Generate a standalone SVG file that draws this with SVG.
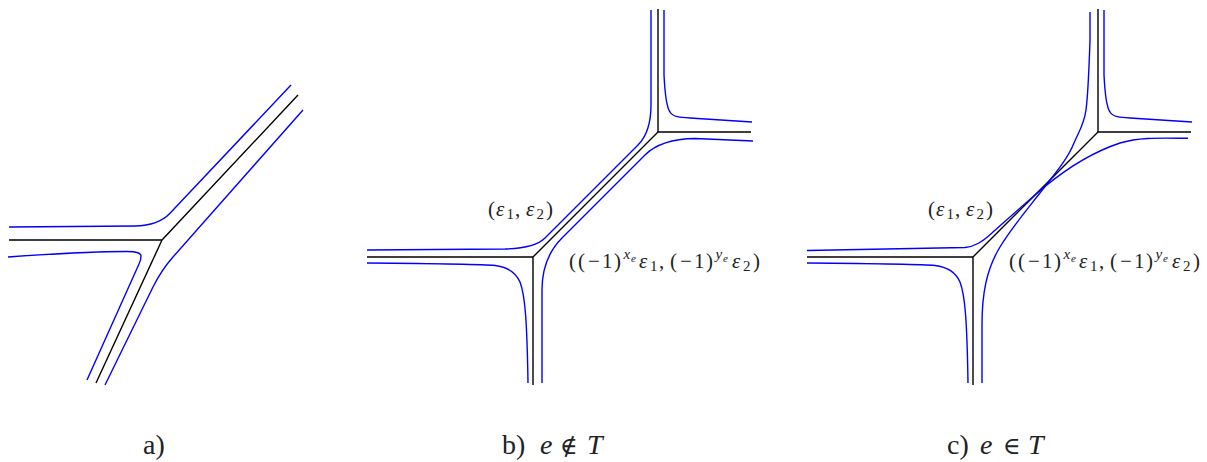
<svg xmlns="http://www.w3.org/2000/svg" width="1207" height="462" viewBox="0 0 1207 462">
<style>
.k{fill:none;stroke:#000;stroke-width:1.4}
.b{fill:none;stroke:#0000ff;stroke-width:1.4}
text{font-family:"Liberation Serif","DejaVu Serif",serif;fill:#222}
.it{font-style:italic}
.m{font-size:21px}
.s{font-size:15px}
.ss{font-size:11px}
.cap{font-size:28px}
.sym{font-family:"DejaVu Serif",serif;font-size:24px}
</style>
<g id="connectors">
<g id="panel-a">
<path class="k" d="M9,240 H162 L298,95 M162,240 L96,383"/>
<path class="b" d="M9,227 L135,226 C150,225.8 162,221.8 170,213.3 L291,85"/>
<path class="b" d="M303,110 L173,257 C167,263.7 158,277 153,287 L105,385"/>
<path class="b" d="M8,257 C50,254 100,251.5 127,251.5 C137,251.5 141,253 141,256 C141,259 140.5,261 139,264 L87,380"/>
</g>
<g id="panel-b">
<path class="k" d="M367,257 H533 V385 M533,257 L658,132 V9 M658,132 H751"/>
<path class="b" d="M367,250 L505,249 C522,248.5 537,246 545,238 L638,145 C646,137 651,125 651,105 L651,10"/>
<path class="b" d="M664,10 L664,75 C665,95 667,108 670,112 C673,117 680,117.5 690,118 L752,122"/>
<path class="b" d="M753,141 L695,138.5 Q661,139 645,155 L562,238 Q542,258 542,290 L542,383"/>
<path class="b" d="M367,263 C430,263.5 480,264 495,265.5 C508,267 516,273 520,282 C525,295 527,320 528,383"/>
</g>
<g id="panel-c">
<path class="k" d="M807,257 H973 V385 M973,257 L1098,132 V9 M1098,132 H1191"/>
<path class="b" d="M807,250.5 L965,247.5 C975,246.5 982,242 992,233 C1010,217 1030,199 1045,186.5 C1065,170 1090,153 1120,143 C1140,137 1160,138 1188,138.3"/>
<path class="b" d="M982,383 L982,325 C982,295 986,270 1000,247 C1012,227 1030,206 1045,186.5 C1057,171 1068,158 1074,143 C1078,133 1084,125 1086,110 C1088,95 1089,70 1090,40 L1090,12"/>
<path class="b" d="M1104,10 L1104,75 C1105,95 1107,108 1110,112 C1113,117 1120,117.5 1130,118 L1192,122"/>
<path class="b" d="M807,263 C870,263.5 920,264 935,265.5 C948,267 956,273 960,282 C965,295 967,320 968,383"/>
</g>
</g>
<g id="label-b-eps">
<text class="m"><tspan x="488" y="216">(</tspan><tspan class="it" x="496" y="216">ε</tspan><tspan class="s" x="506.5" y="219">1</tspan><tspan x="515" y="216">,</tspan><tspan class="it" x="526" y="216">ε</tspan><tspan class="s" x="536.5" y="219">2</tspan><tspan x="546" y="216">)</tspan></text>
</g>
<g id="label-b-sign">
<text class="m"><tspan x="569" y="268">(</tspan><tspan x="578" y="268">(</tspan><tspan x="588" y="268">−</tspan><tspan x="602" y="268">1</tspan><tspan x="614" y="268">)</tspan><tspan class="s it" x="623.5" y="258.5">x</tspan><tspan class="ss it" x="631" y="261.5">e</tspan><tspan class="it" x="639" y="268">ε</tspan><tspan class="s" x="650" y="271">1</tspan><tspan x="659" y="268">,</tspan><tspan x="670" y="268">(</tspan><tspan x="680" y="268">−</tspan><tspan x="694" y="268">1</tspan><tspan x="706" y="268">)</tspan><tspan class="s it" x="715.5" y="258.5">y</tspan><tspan class="ss it" x="723" y="261.5">e</tspan><tspan class="it" x="732" y="268">ε</tspan><tspan class="s" x="743" y="271">2</tspan><tspan x="753" y="268">)</tspan></text>
</g>
<g id="label-c-eps">
<text class="m"><tspan x="928" y="216">(</tspan><tspan class="it" x="936" y="216">ε</tspan><tspan class="s" x="946.5" y="219">1</tspan><tspan x="955" y="216">,</tspan><tspan class="it" x="966" y="216">ε</tspan><tspan class="s" x="976.5" y="219">2</tspan><tspan x="986" y="216">)</tspan></text>
</g>
<g id="label-c-sign">
<text class="m"><tspan x="1009" y="268">(</tspan><tspan x="1018" y="268">(</tspan><tspan x="1028" y="268">−</tspan><tspan x="1042" y="268">1</tspan><tspan x="1054" y="268">)</tspan><tspan class="s it" x="1063.5" y="258.5">x</tspan><tspan class="ss it" x="1071" y="261.5">e</tspan><tspan class="it" x="1079" y="268">ε</tspan><tspan class="s" x="1090" y="271">1</tspan><tspan x="1099" y="268">,</tspan><tspan x="1110" y="268">(</tspan><tspan x="1120" y="268">−</tspan><tspan x="1134" y="268">1</tspan><tspan x="1146" y="268">)</tspan><tspan class="s it" x="1155.5" y="258.5">y</tspan><tspan class="ss it" x="1163" y="261.5">e</tspan><tspan class="it" x="1172" y="268">ε</tspan><tspan class="s" x="1183" y="271">2</tspan><tspan x="1193" y="268">)</tspan></text>
</g>
<g id="caption-a">
<text class="cap" x="143" y="454">a)</text>
</g>
<g id="caption-b">
<text class="cap"><tspan x="502" y="454">b)</tspan><tspan class="it" x="540" y="454">e</tspan><tspan class="sym" x="560" y="454">∉</tspan><tspan class="it" x="587" y="454">T</tspan></text>
</g>
<g id="caption-c">
<text class="cap"><tspan x="947" y="454">c)</tspan><tspan class="it" x="980" y="454">e</tspan><tspan class="sym" x="1003" y="454">∈</tspan><tspan class="it" x="1028" y="454">T</tspan></text>
</g>
</svg>
